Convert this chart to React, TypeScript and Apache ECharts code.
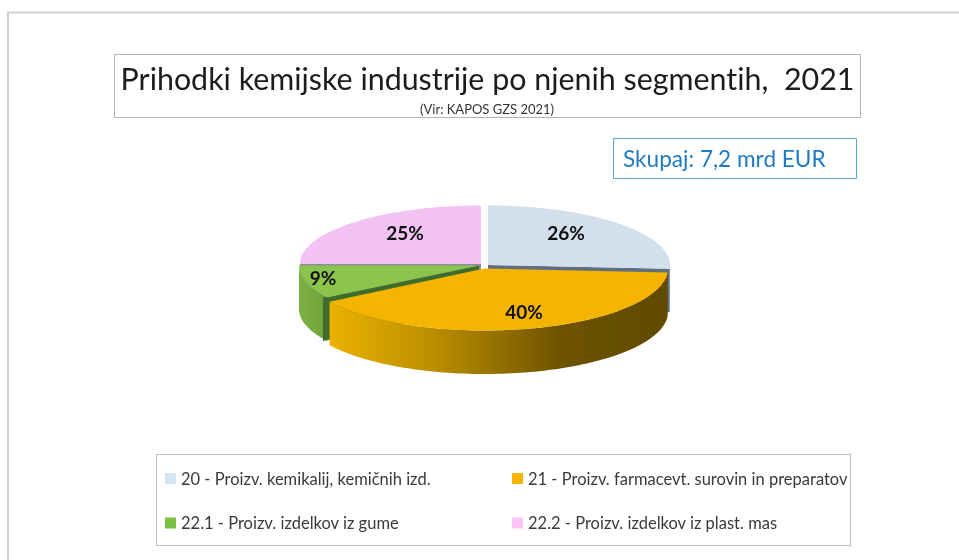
import React, { useEffect, useRef } from "react";
import * as echarts from "echarts";

const chartTitle = "Prihodki kemijske industrije po njenih segmentih,  2021";
const chartSource = "(Vir: KAPOS GZS 2021)";
const totalNote = "Skupaj: 7,2 mrd EUR";
const segmentNames = [
  "20 - Proizv. kemikalij, kemičnih izd.",
  "21 - Proizv. farmacevt. surovin in preparatov",
  "22.1 - Proizv. izdelkov iz gume",
  "22.2 - Proizv. izdelkov iz plast. mas",
];
const segmentShares = [26, 40, 9, 25];

// Styling and projection of the tilted pie (not data)
const FONT = "Lato, 'Open Sans', sans-serif";
const topColors = ["#D3DFEB", "#F4B400", "#8AC44C", "#F1C2F2"];
const swatchColors = ["#D6E4F2", "#F7B500", "#7AC143", "#FBC4F7"];
const radialWallColors = ["#5F6F80", "#7A5C00", "#3F6B2D", "#8E8E9A"];
const outerWallFills: any[] = [
  "#6E7B88",
  new echarts.graphic.LinearGradient(0, 0, 1, 0, [
    { offset: 0, color: "#ECB200" },
    { offset: 0.3, color: "#BC8F00" },
    { offset: 0.68, color: "#6E5300" },
    { offset: 1, color: "#604A00" },
  ]),
  new echarts.graphic.LinearGradient(0, 0, 1, 0, [
    { offset: 0, color: "#7DB043" },
    { offset: 1, color: "#6FA23C" },
  ]),
  "#B58CB8",
];
const centres = [
  [488, 265],
  [484.5, 268.5],
  [479, 265.5],
  [481, 264],
];
const radiiX = [182, 183.5, 180, 181];
const radiiY = [59.5, 62, 59.5, 58.5];
const wallLean = [0, 0, -4, 0];
const DEPTH = 43.5;
const labelSpots = [
  [566, 232],
  [524, 311],
  [323, 277],
  [405, 232],
];
const drawZ = [3, 6, 5, 2];

const startShares = segmentShares.map((_, i) => segmentShares.slice(0, i).reduce((a, b) => a + b, 0));

function makeSlice(i: number) {
  return {
    type: "custom",
    name: segmentNames[i],
    coordinateSystem: "none",
    itemStyle: { color: swatchColors[i] },
    z: drawZ[i],
    data: [[segmentShares[i], startShares[i]]],
    renderItem: (_p: any, api: any) => {
      const value = api.value(0);
      const start = api.value(1);
      const [cx, cy] = centres[i];
      const pt = (deg: number) => {
        const a = (deg * Math.PI) / 180;
        return [cx + radiiX[i] * Math.sin(a), cy - radiiY[i] * Math.cos(a)];
      };
      const a0 = (start / 100) * 360;
      const a1 = ((start + value) / 100) * 360;
      const steps = Math.max(12, Math.round((a1 - a0) / 1.5));
      const arc: number[][] = [];
      for (let k = 0; k <= steps; k++) arc.push(pt(a0 + ((a1 - a0) * k) / steps));

      // outer wall only where the rim faces the viewer (90..270 degrees)
      const w0 = Math.max(a0, 90);
      const w1 = Math.min(a1, 270);
      const children: any[] = [];
      if (w1 > w0) {
        const rim: number[][] = [];
        const n = Math.max(4, Math.round((w1 - w0) / 1.5));
        for (let k = 0; k <= n; k++) rim.push(pt(w0 + ((w1 - w0) * k) / n));
        const low = rim.map((p) => [p[0], p[1] + DEPTH]).reverse();
        children.push({
          type: "polygon",
          shape: { points: rim.concat(low) },
          style: { fill: outerWallFills[i] },
          z2: 1,
        });
      }
      // radial wall on the cut edge that faces the viewer
      if (i !== 1) {
        const cutDeg = i === 0 ? a1 : a0;
        const c = pt(cutDeg);
        const lean = wallLean[i];
        children.push({
          type: "polygon",
          shape: {
            points: [
              [cx, cy],
              [c[0] + lean, c[1]],
              [c[0] + lean, c[1] + DEPTH],
              [cx, cy + DEPTH],
            ],
          },
          style: { fill: radialWallColors[i] },
          z2: 2,
        });
      }
      children.push({
        type: "polygon",
        shape: { points: [[cx, cy], ...arc] },
        style: { fill: topColors[i] },
        z2: 3,
      });
      children.push({
        type: "text",
        x: labelSpots[i][0],
        y: labelSpots[i][1],
        style: {
          text: `${value}%`,
          fill: "#111111",
          font: `bold 19px ${FONT}`,
          textAlign: "center",
          textVerticalAlign: "middle",
        },
        z2: 4,
      });
      return { type: "group", children };
    },
  };
}

export default function App() {
  const ref = useRef<HTMLDivElement>(null);
  useEffect(() => {
    document.body.style.margin = "0";
    document.body.style.background = "#fff";
    const chart = echarts.init(ref.current!, undefined, { renderer: "svg" });
    const legendText = { fontFamily: FONT, fontSize: 16.5, color: "#3A3A3A" };
    chart.setOption({
      animation: false,
      backgroundColor: "#fff",
      title: [
        {
          text: chartTitle,
          left: 482.5,
          top: 58,
          padding: 5,
          textAlign: "center",
          textStyle: { fontFamily: FONT, fontSize: 30.4, fontWeight: "normal", color: "#1C1C1C" },
        },
        {
          text: chartSource,
          left: 482,
          top: 97,
          textAlign: "center",
          textStyle: { fontFamily: FONT, fontSize: 13, fontWeight: "normal", color: "#333" },
        },
      ],
      legend: [
        {
          orient: "vertical",
          left: 165,
          top: 470,
          padding: 0,
          itemWidth: 11,
          itemHeight: 11,
          itemGap: 27.5,
          icon: "rect",
          selectedMode: false,
          textStyle: legendText,
          data: [segmentNames[0], segmentNames[2]],
        },
        {
          orient: "vertical",
          left: 512,
          top: 470,
          padding: 0,
          itemWidth: 11,
          itemHeight: 11,
          itemGap: 27.5,
          icon: "rect",
          selectedMode: false,
          textStyle: legendText,
          data: [segmentNames[1], segmentNames[3]],
        },
      ],
      graphic: [
        { type: "polyline", shape: { points: [[8, 560], [8, 12.5], [959, 12.5]] }, style: { fill: "none", stroke: "#D2D2D2", lineWidth: 2 } },
        { type: "rect", shape: { x: 114.5, y: 54.5, width: 746, height: 63 }, style: { fill: "none", stroke: "#B5B5B5", lineWidth: 1 } },
        { type: "rect", shape: { x: 613.5, y: 138.5, width: 243, height: 40 }, style: { fill: "none", stroke: "#5BA3DC", lineWidth: 1 } },
        { type: "text", x: 623, y: 158.5, style: { text: totalNote, fill: "#1F7CC4", font: `22.6px ${FONT}`, textVerticalAlign: "middle" } },
        { type: "rect", shape: { x: 156.5, y: 454.5, width: 694, height: 91 }, style: { fill: "none", stroke: "#BDBDBD", lineWidth: 1 } },
      ],
      series: [0, 1, 2, 3].map(makeSlice),
    });
    return () => chart.dispose();
  }, []);
  return <div ref={ref} style={{ width: 959, height: 560, filter: "blur(0.7px)", fontVariantLigatures: "none" }} />;
}
